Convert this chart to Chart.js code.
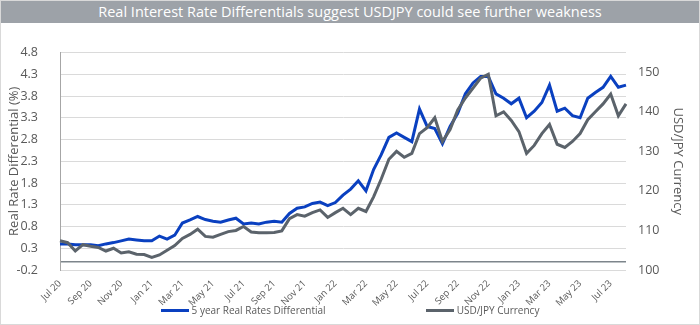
<!DOCTYPE html>
<html>
<head>
<meta charset="utf-8">
<script src="https://cdn.jsdelivr.net/npm/chart.js@4"></script>
<style>
    body { margin: 0; background: #fff; }
    #wrap { position: relative; width: 700px; height: 325px; font-family: 'Open Sans', sans-serif; overflow: hidden; }
    #title { position: absolute; left: 0; top: 0; width: 700px; height: 23px; background: #9da2a8; color: #fff; font-size: 14.5px; line-height: 23px; text-align: center; }
    #box { position: absolute; left: 0; top: 23px; }
    #legend { position: absolute; left: 0; top: 302px; width: 700px; height: 16px; display: flex; justify-content: center; gap: 100px; font-size: 10px; color: #595959; }
    .item { display: flex; align-items: center; }
    .swatch { width: 28px; height: 3px; margin-right: 3px; }
    #frame { position: absolute; left: 0; top: 0; width: 700px; height: 325px; box-sizing: border-box; border: 1px solid #d9d9d9; pointer-events: none; }
</style>
</head>
<body>
<div id="wrap">
    <div id="title">Real Interest Rate Differentials suggest USDJPY could see further weakness</div>
    <canvas id="box" width="700" height="302"></canvas>
    <div id="legend"></div>
    <div id="frame"></div>
</div>
<script>
// month labels, one every month from Jul 2020 to Aug 2023
const monthNames = ['Jul 20', 'Aug 20', 'Sep 20', 'Oct 20', 'Nov 20', 'Dec 20',
    'Jan 21', 'Feb 21', 'Mar 21', 'Apr 21', 'May 21', 'Jun 21', 'Jul 21', 'Aug 21', 'Sep 21', 'Oct 21', 'Nov 21', 'Dec 21',
    'Jan 22', 'Feb 22', 'Mar 22', 'Apr 22', 'May 22', 'Jun 22', 'Jul 22', 'Aug 22', 'Sep 22', 'Oct 22', 'Nov 22', 'Dec 22',
    'Jan 23', 'Feb 23', 'Mar 23', 'Apr 23', 'May 23', 'Jun 23', 'Jul 23', 'Aug 23'];

// half-month observations (start and middle of each month)
const periods = [];
monthNames.forEach((m, i) => {
    periods.push(m);
    if (i < monthNames.length - 1) periods.push('mid ' + m);
});

// 5 year real rates differential (%)
const realRateDiff = [
    0.40, 0.40, 0.38, 0.38, 0.38, 0.36, 0.40, 0.43, 0.47, 0.51,
    0.49, 0.47, 0.47, 0.58, 0.51, 0.60, 0.88, 0.95, 1.03, 0.96,
    0.92, 0.90, 0.95, 0.99, 0.86, 0.88, 0.86, 0.90, 0.92, 0.90,
    1.10, 1.22, 1.25, 1.33, 1.36, 1.28, 1.35, 1.52, 1.66, 1.85,
    1.62, 2.11, 2.45, 2.85, 2.95, 2.85, 2.75, 3.50, 3.10, 3.05,
    2.70, 3.10, 3.40, 3.85, 4.10, 4.25, 4.25, 3.85, 3.75, 3.62,
    3.75, 3.30, 3.45, 3.65, 4.05, 3.45, 3.52, 3.35, 3.30, 3.75,
    3.88, 4.00, 4.25, 4.00, 4.05
];

// USD/JPY spot
const usdJpy = [
    107.4, 106.9, 104.8, 106.4, 106.0, 105.7, 104.8, 105.5, 104.3, 104.6,
    104.0, 103.9, 103.2, 103.8, 105.0, 106.2, 108.0, 109.0, 110.3, 108.5,
    108.3, 109.0, 109.7, 110.0, 111.0, 109.6, 109.4, 109.4, 109.5, 109.9,
    113.0, 114.0, 113.6, 114.5, 115.2, 113.3, 114.5, 115.6, 114.0, 115.6,
    114.8, 118.5, 123.0, 128.0, 130.0, 128.5, 129.5, 134.5, 136.0, 138.5,
    132.5, 135.5, 140.5, 143.5, 146.0, 148.5, 149.5, 139.0, 140.0, 137.8,
    135.0, 129.5, 131.5, 134.5, 136.8, 131.8, 131.0, 132.5, 134.5, 138.0,
    140.0, 142.0, 144.5, 139.0, 142.0
];

const textColor = '#595959';

const chart = new Chart(document.getElementById('box'), {
    type: 'line',
    data: {
        labels: periods,
        datasets: [{
            label: '5 year Real Rates Differential',
            data: realRateDiff,
            borderColor: '#0a40c0',
            backgroundColor: '#0a40c0',
            borderWidth: 3,
            pointRadius: 0,
            yAxisID: 'y',
            order: 1
        }, {
            label: 'USD/JPY Currency',
            data: usdJpy,
            borderColor: '#5b636b',
            backgroundColor: '#5b636b',
            borderWidth: 3,
            pointRadius: 0,
            yAxisID: 'y1',
            order: 0
        }]
    },
    options: {
        responsive: false,
        animation: false,
        layout: { padding: { top: 23 } },
        plugins: {
            legend: { display: false },
            tooltip: { enabled: false }
        },
        scales: {
            x: {
                grid: { display: false },
                border: { display: false },
                ticks: {
                    autoSkip: false,
                    minRotation: 45,
                    maxRotation: 45,
                    padding: 0,
                    color: textColor,
                    font: { family: 'Open Sans', size: 9.5 },
                    callback: (v, i) => i % 4 === 0 ? monthNames[i / 2] : ''
                },
                afterFit: s => { s.height = 55; }
            },
            y: {
                position: 'left',
                min: -0.2,
                max: 4.8,
                afterBuildTicks: s => {
                    s.ticks.push({ value: 0 });
                    s.ticks.sort((a, b) => a.value - b.value);
                },
                ticks: {
                    stepSize: 0.5,
                    padding: 22,
                    color: textColor,
                    font: { family: 'Open Sans', size: 12.5 },
                    callback: v => Math.abs(v) < 1e-9 ? '' : v.toFixed(1)
                },
                grid: {
                    drawTicks: false,
                    color: c => c.tick && c.tick.value === 0 ? '#7d858b' : '#dadada',
                    lineWidth: c => c.tick && c.tick.value === 0 ? 1.5 : 1
                },
                border: { display: true, color: '#a6a6a6' },
                title: {
                    display: true,
                    text: 'Real Rate Differential (%)',
                    color: textColor,
                    font: { family: 'Open Sans', size: 13 },
                    padding: { top: 6, bottom: 0 }
                },
                afterFit: s => { s.width = 60; }
            },
            y1: {
                position: 'right',
                min: 100,
                max: 155,
                ticks: {
                    stepSize: 10,
                    padding: 12,
                    color: textColor,
                    font: { family: 'Open Sans', size: 12.5 },
                    callback: v => v > 150 ? '' : v
                },
                grid: { display: false, drawTicks: false },
                border: { display: false },
                title: {
                    display: true,
                    text: 'USD/JPY Currency',
                    color: textColor,
                    font: { family: 'Open Sans', size: 13 },
                    padding: { top: 14.5, bottom: 0 }
                },
                afterFit: s => { s.width = 74; }
            }
        }
    }
});

// html legend, spaced like the original
const legendBox = document.getElementById('legend');
chart.data.datasets.forEach(ds => {
    const item = document.createElement('div');
    item.className = 'item';
    item.innerHTML = `<span class="swatch" style="background:${ds.borderColor}"></span><span>${ds.label}</span>`;
    legendBox.appendChild(item);
});
</script>
</body>
</html>
